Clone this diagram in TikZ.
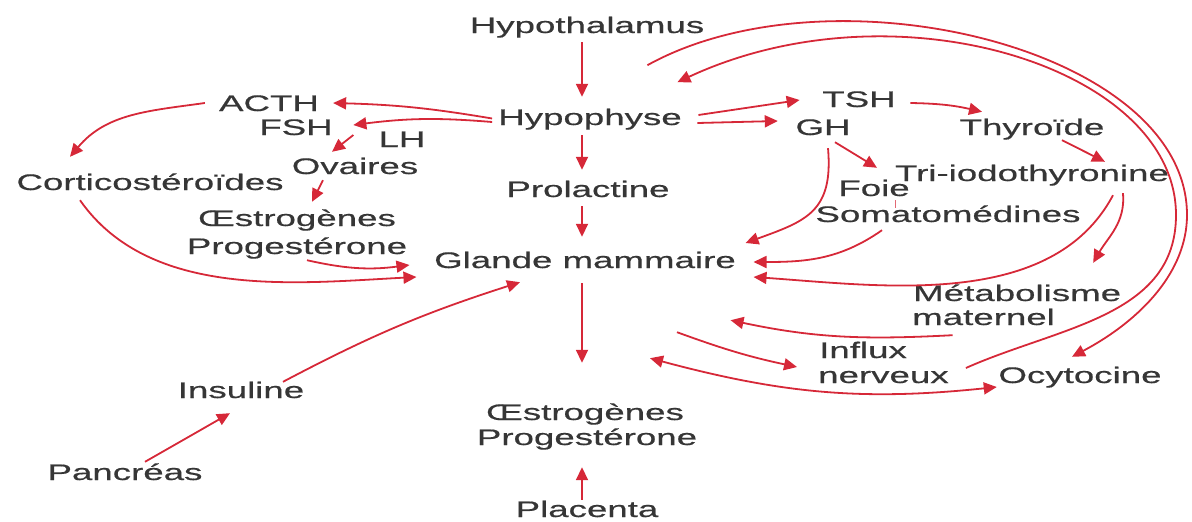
\documentclass[tikz,border=0pt]{standalone}
\usepackage{fontspec}
\setmainfont{Liberation Sans}[FakeStretch=1.63, FakeBold=0.5]
\usepackage{tikz}
\usetikzlibrary{arrows.meta, calc}
\usepackage{xcolor}
\definecolor{cInk}{HTML}{363636}
\definecolor{cRed}{HTML}{D62838}
\tikzset{
  lbl/.style={
    font=\fontsize{22.5}{27}\selectfont, text=cInk,
    inner sep=3pt, text height=16pt, text depth=5pt,
    anchor=base,
  },
  arw/.style={-{Triangle[length=13pt, width=12pt]}, line width=1.8pt, color=#1},
  arw/.default=cRed,
  darw/.style={{Triangle[length=13pt, width=12pt]}-{Triangle[length=13pt, width=12pt]},
    line width=1.8pt, color=#1},
  darw/.default=cRed,
}

\begin{document}
\begin{tikzpicture}[x=1pt, y=1pt]

  \useasboundingbox (0,0) rectangle (1192,-522);

  % central axis
  \node[lbl] (hypoth) at (587,-33) {Hypothalamus};
  \node[lbl] (hypoph) at (590,-125) {Hypophyse};
  \node[lbl] (prolac) at (588,-197) {Prolactine};
  \node[lbl] (glande) at (585,-268) {Glande mammaire};
  \node[lbl] (oestroB) at (585,-420) {Œstrogènes};
  \node[lbl] (progB) at (587,-445) {Progestérone};
  \node[lbl, text depth=0pt, inner sep=2pt] (placenta) at (587,-517) {Placenta};

  % left side
  \node[lbl] (acth) at (269,-111) {ACTH};
  \node[lbl] (fsh) at (296,-135) {FSH};
  \node[lbl] (lh) at (402,-147) {LH};
  \node[lbl] (ovaires) at (355,-174) {Ovaires};
  \node[lbl] (cortico) at (150,-190) {Corticostéroïdes};
  \node[lbl] (oestroL) at (297,-226) {Œstrogènes};
  \node[lbl] (progL) at (297,-254) {Progestérone};
  \node[lbl] (insuline) at (241,-398) {Insuline};
  \node[lbl] (pancreas) at (125,-480) {Pancréas};

  % right side
  \node[lbl] (tsh) at (859,-107) {TSH};
  \node[lbl] (gh) at (823,-135) {GH};
  \node[lbl] (thyroide) at (1032,-135) {Thyroïde};
  \node[lbl] (triiodo) at (1032,-181) {Tri-iodothyronine};
  \node[lbl] (foie) at (874,-196) {Foie};
  \node[lbl] (somato) at (948,-222) {Somatomédines};
  \node[lbl, anchor=base west] (metab) at (910,-301) {Métabolisme};
  \node[lbl, anchor=base west] (maternel) at (909,-325) {maternel};
  \node[lbl, anchor=base west] (influx) at (816,-358) {Influx};
  \node[lbl, anchor=base west] (nerveux) at (815,-383) {nerveux};
  \node[lbl] (ocyto) at (1080,-383) {Ocytocine};

  % vertical arrows
  \draw[arw] ($(hypoth.south)+(-5,-1)$) -- ($(hypoph.north)+(-8,9)$);
  \draw[arw] ($(hypoph.south)+(-8,-2)$) -- ($(prolac.north)+(-6,8)$);
  \draw[arw] ($(prolac.south)+(-6,-1)$) -- ($(glande.north)+(-3,12)$);
  \draw[arw] ($(glande.south)+(-3,-7)$) -- ($(oestroB.north)+(-3,38)$);
  \draw[arw] ($(placenta.north)+(-5,-1)$) -- ($(progB.south)+(-5,-14)$);

  % ACTH, FSH, LH
  \draw[arw] ($(hypoph.west)+(-3,1)$) to[bend right=4] ($(acth.east)+(11,2.5)$);
  \draw[arw] ($(hypoph.west)+(-3,-2.5)$) to[bend right=6] ($(fsh.east)+(17.5,4.5)$);
  \draw[arw] ($(fsh.east)+(17.5,-5.5)$) -- ($(ovaires.north)+(-23,3)$);
  \draw[arw] ($(ovaires.south)+(-32,2)$) -- ($(oestroL.north)+(15,5)$);
  \draw[arw] ($(acth.west)+(-11,2.5)$) to[out=188, in=50] ($(cortico.north)+(-80,14)$);
  \draw[arw] ($(cortico.south)+(-70,-2)$) to[out=-55, in=183, looseness=0.9]
    ($(glande.west)+(-14.5,-14.5)$);
  \draw[arw] ($(progL.south)+(10,2)$) to[bend right=10] ($(glande.west)+(-21.5,-2.5)$);

  % pancreas
  \draw[arw] ($(pancreas.north)+(20,-1)$) -- ($(insuline.south)+(-11,-7)$);
  \draw[arw] ($(insuline.north)+(42,-3)$) to[bend left=5] ($(glande.south)+(-65,-6)$);

  % TSH, GH
  \draw[arw] ($(hypoph.east)+(13.5,4.5)$) -- ($(tsh.west)+(-19.5,1.5)$);
  \draw[arw] ($(hypoph.east)+(12.5,-3.5)$) -- ($(gh.west)+(-14.5,8.5)$);
  \draw[arw] ($(tsh.east)+(11.5,-1.5)$) to[bend left=6] ($(thyroide.north)+(-50,4)$);
  \draw[arw] ($(thyroide.south)+(30,3)$) -- ($(triiodo.north)+(73,0)$);
  \draw[arw] ($(gh.south)+(12,1)$) -- ($(foie.north)+(3,9)$);
  \draw[cRed!70, line width=0.6pt] ($(foie.south)+(21,4)$) -- ($(somato.north)+(-53,-5)$);
  \draw[arw] ($(gh.south)+(5,-5)$) to[out=-85, in=20, looseness=1.3] ($(glande.east)+(6.5,19.5)$);
  \draw[arw] ($(somato.south)+(-66,0)$) to[out=215, in=0] ($(glande.east)+(14.5,0.5)$);
  \draw[arw] ($(triiodo.south)+(81,-6)$) to[out=242, in=-4, looseness=0.9]
    ($(glande.east)+(14.5,-14.5)$);
  \draw[arw] ($(triiodo.south)+(91,-4)$) to[out=-85, in=60] ($(metab.north)+(76,19)$);

  % maternal metabolism, nerve impulse, oxytocin
  \draw[arw] ($(maternel.south)+(-31,-2)$) to[out=183, in=-12] ($(glande.south east)+(-8.5,-44)$);
  \draw[arw] ($(glande.south)+(92,-56)$) to[out=-20, in=168] ($(nerveux.west)+(-18,10.5)$);
  \draw[darw] ($(glande.south)+(65,-82)$) to[out=-15, in=186] ($(ocyto.west)+(1.5,-9.5)$);

  % loops round the right
  \draw[arw] ($(hypoth.south east)+(-60,-24)$)
    to[out=29, in=90, out distance=210pt, in distance=167pt] (1187,-215)
    to[out=-90, in=28, out distance=56pt, in distance=79pt] ($(ocyto.north)+(-8,7)$);
  \draw[arw] ($(nerveux.east)+(14,9.5)$)
    to[out=24, in=270] (1176,-215)
    to[out=90, in=25, out distance=148pt, in distance=240pt] ($(hypoth.south east)+(-30,-41)$);

\end{tikzpicture}
\end{document}
